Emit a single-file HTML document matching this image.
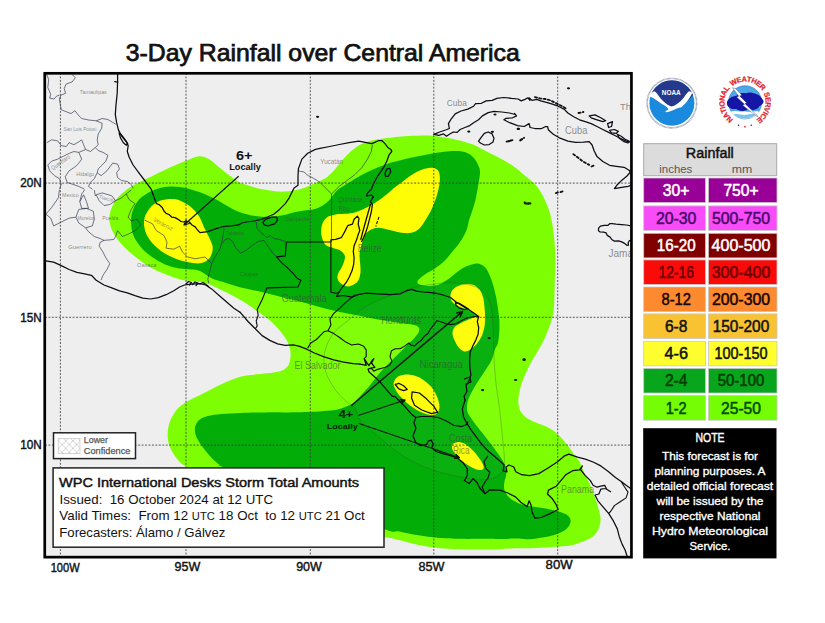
<!DOCTYPE html><html><head><meta charset="utf-8"><title>3-Day Rainfall over Central America</title><style>html,body{margin:0;padding:0;background:#fff}body{width:825px;height:623px;position:relative;overflow:hidden;font-family:"Liberation Sans",sans-serif}</style></head><body><svg width="825" height="623" viewBox="0 0 825 623" style="position:absolute;left:0;top:0;font-family:'Liberation Sans',sans-serif">
<defs><clipPath id="mc"><rect x="45" y="73" width="586" height="484"/></clipPath><pattern id="hatch" width="7" height="7" patternUnits="userSpaceOnUse"><path d="M0,0 L7,7 M7,0 L0,7" stroke="#ffffff" stroke-opacity="0.55" stroke-width="0.7" fill="none"/></pattern><pattern id="hatch2" width="7.3" height="7.6" patternUnits="userSpaceOnUse"><path d="M0,0 L7.3,7.6 M7.3,0 L0,7.6" stroke="#b8b8b8" stroke-width="0.6" fill="none"/></pattern></defs>
<rect width="825" height="623" fill="#fff"/>
<rect x="45" y="73" width="586" height="484" fill="#eeeeee"/>
<g clip-path="url(#mc)">
<path d="M199.1,156.2 C202.7,156.0 205.6,157.3 208.8,159.1 C212.0,160.9 215.3,164.2 218.5,166.8 C221.7,169.4 225.0,172.2 228.2,174.6 C231.4,177.0 234.7,179.6 237.9,181.4 C241.1,183.2 244.4,184.2 247.6,185.3 C250.8,186.4 254.1,187.4 257.3,188.2 C260.5,189.0 263.8,189.5 267,190.1 C270.2,190.7 273.5,191.3 276.7,191.5 C279.9,191.7 283.2,191.7 286.4,191.5 C289.6,191.3 292.8,190.8 296,190.1 C299.2,189.4 302.5,188.4 305.7,187.2 C308.9,186.0 312.7,184.2 315.4,183 C318.1,181.8 319.9,181.1 322,180 C324.1,178.9 325.6,178.4 327.8,176.5 C330.1,174.6 332.9,171.7 335.5,168.8 C338.1,165.9 340.7,162.0 343.3,159.1 C345.9,156.2 348.4,153.6 351,151.3 C353.6,149.0 355.9,147.1 358.8,145.5 C361.7,143.9 365.3,142.6 368.5,141.6 C371.7,140.6 374.6,139.9 378.2,139.3 C381.8,138.7 385.9,138.3 389.8,137.8 C393.7,137.3 397.0,136.7 401.5,136.4 C406.0,136.1 411.8,135.9 417,135.8 C422.2,135.7 427.3,135.4 432.5,135.8 C437.7,136.2 442.8,137.1 448,138.1 C453.2,139.1 459.0,140.4 463.5,141.6 C468.0,142.8 471.8,144.1 475.2,145.5 C478.6,146.9 479.8,148.0 483.6,150 C487.4,152.0 493.3,154.7 498.2,157.3 C503.1,159.9 508.3,162.8 512.7,165.8 C517.1,168.8 520.8,172.1 524.8,175.5 C528.8,178.9 533.8,182.6 537,186.4 C540.2,190.2 542.2,194.5 544.2,198.5 C546.2,202.5 547.9,207.0 549.1,210.6 C550.3,214.2 550.8,216.4 551.5,220 C552.2,223.6 553.0,228.1 553.5,232.1 C554.0,236.1 554.4,240.1 554.7,244.2 C555.0,248.2 555.1,252.3 555.2,256.4 C555.3,260.4 555.3,264.1 555.2,268.5 C555.1,272.9 554.8,278.1 554.7,283 C554.6,287.9 554.6,292.8 554.4,297.6 C554.2,302.5 554.2,307.7 553.5,312.1 C552.8,316.5 551.6,320.1 550.3,324.2 C549.0,328.2 547.3,332.3 545.5,336.4 C543.7,340.4 541.6,344.6 539.4,348.5 C537.2,352.4 534.6,355.9 532.5,359.7 C530.4,363.5 528.5,367.4 526.7,371.3 C524.9,375.2 523.1,379.1 521.8,383 C520.5,386.9 519.4,391.1 518.9,394.6 C518.4,398.2 518.2,401.4 518.5,404.3 C518.8,407.2 519.5,409.8 520.9,412.1 C522.3,414.4 524.1,416.1 526.7,417.9 C529.3,419.7 533.2,421.2 536.4,422.7 C539.6,424.1 542.9,425.0 546.1,426.6 C549.3,428.2 552.9,430.1 555.8,432.4 C558.7,434.7 561.1,437.4 563.5,440.2 C565.9,442.9 568.3,446.3 570.3,448.9 C572.2,451.5 573.6,453.4 575.2,455.7 C576.8,458.0 578.5,459.6 580,462.5 C581.5,465.4 582.7,469.6 584.2,473 C585.7,476.4 587.6,479.5 589.1,482.7 C590.6,485.9 591.9,489.0 593.2,492.4 C594.5,495.8 596.0,499.9 597,503.3 C598.0,506.7 598.9,510.2 599.5,513 C600.1,515.8 600.8,517.2 600.6,520 C600.4,522.8 599.6,526.9 598.2,529.7 C596.8,532.5 594.7,535.0 592.1,537 C589.5,539.0 586.0,540.4 582.4,541.8 C578.8,543.2 574.7,544.7 570.3,545.5 C565.9,546.3 561.4,546.3 555.8,546.7 C550.1,547.1 543.1,547.6 536.4,547.9 C529.7,548.2 521.6,548.1 515.5,548.3 C509.4,548.5 504.9,549.0 500,549.2 C495.1,549.4 493.5,549.4 486.4,549.4 C479.3,549.4 465.4,549.5 457.3,549.2 C449.2,549.0 444.4,548.6 437.9,547.9 C431.4,547.2 425.0,546.3 418.5,545 C412.0,543.7 404.7,541.4 399.1,540.1 C393.5,538.8 396.6,538.9 385.1,537.2 C373.6,535.5 350.9,534.5 330,530 C309.1,525.5 279.2,517.5 260,510 C240.8,502.5 227.4,492.3 215,485 C202.6,477.7 191.6,470.3 185.6,466.3 C179.6,462.3 180.9,463.1 178.8,460.9 C176.7,458.7 174.7,456.0 173,453.1 C171.3,450.2 169.6,446.6 168.7,443.4 C167.8,440.2 167.6,436.9 167.7,433.7 C167.8,430.5 168.2,427.1 169.1,424 C170.0,420.9 171.4,418.1 173,415.3 C174.6,412.6 176.2,409.9 178.8,407.5 C181.4,405.1 184.9,402.8 188.5,400.7 C192.1,398.6 196.2,396.8 200.1,394.9 C204.0,393.0 207.9,391.0 211.8,389.1 C215.7,387.2 219.5,385.1 223.4,383.3 C227.3,381.5 231.1,379.7 235,378.4 C238.9,377.1 242.5,376.2 246.7,375.5 C250.9,374.8 255.7,374.5 260.2,374 C264.7,373.5 269.9,373.3 273.8,372.6 C277.7,371.9 281.1,371.0 283.5,369.7 C285.9,368.4 287.4,367.0 288.5,365 C289.6,363.0 290.1,360.4 290.4,357.9 C290.7,355.4 290.7,352.9 290.2,350.1 C289.7,347.4 288.8,344.3 287.3,341.4 C285.9,338.5 283.8,335.6 281.5,332.7 C279.2,329.8 276.3,326.5 273.7,323.9 C271.1,321.3 268.8,319.4 265.9,317.2 C263.0,314.9 259.8,312.8 256.2,310.4 C252.6,308.0 248.5,305.0 244.6,302.6 C240.7,300.2 236.9,297.9 233,295.8 C229.1,293.7 225.2,291.9 221.3,290 C217.4,288.1 213.2,285.8 209.7,284.5 C206.1,283.2 203.1,282.7 200,282.1 C196.9,281.6 194.7,281.7 191.3,281.2 C187.9,280.7 183.5,280.2 179.6,279.2 C175.7,278.2 171.9,276.8 168,275.3 C164.1,273.9 160.3,272.4 156.4,270.5 C152.5,268.6 148.6,266.3 144.7,263.7 C140.8,261.1 136.6,257.9 133.1,255 C129.6,252.1 126.3,249.3 123.4,246.2 C120.5,243.1 117.7,239.7 115.6,236.5 C113.5,233.3 111.8,230.1 110.8,226.9 C109.8,223.7 109.2,220.4 109.4,217.2 C109.6,214.0 110.4,210.7 111.8,207.5 C113.2,204.3 115.2,200.7 117.6,197.8 C120.0,194.9 123.7,192.1 126.3,190 C128.9,187.9 130.7,186.9 133.1,185.5 C135.5,184.1 137.7,183.0 140.9,181.4 C144.1,179.8 148.6,177.8 152.5,176 C156.4,174.2 160.2,172.1 164.1,170.3 C168.0,168.5 171.9,166.7 175.8,165 C179.7,163.3 183.5,161.7 187.4,160.2 C191.3,158.7 195.5,156.4 199.1,156.2Z" fill="#7dfe02"/>
<path d="M170,186.5 C173.3,186.3 176.5,186.6 179.7,187 C182.9,187.4 186.2,188.2 189.4,189 C192.6,189.8 195.9,190.9 199.1,192.1 C202.3,193.2 205.6,194.4 208.8,195.9 C212.0,197.4 215.3,199.0 218.5,200.8 C221.7,202.6 225.0,204.8 228.2,206.6 C231.4,208.4 234.7,210.2 237.9,211.5 C241.1,212.8 244.4,213.6 247.6,214.4 C250.8,215.2 254.1,215.9 257.3,216.3 C260.5,216.7 263.8,216.9 267,216.9 C270.2,216.9 273.5,216.7 276.7,216.3 C279.9,215.9 283.0,215.3 286.4,214.5 C289.8,213.7 293.3,212.4 297,211.7 C300.7,210.9 305.4,210.5 308.6,210 C311.8,209.5 313.8,209.4 316.4,208.5 C319.0,207.6 321.9,206.0 324.1,204.5 C326.4,203.0 327.7,201.9 329.9,199.5 C332.1,197.1 334.3,192.9 337.5,190.1 C340.7,187.2 345.2,184.8 349.1,182.4 C353.0,180.0 356.8,177.7 360.7,175.6 C364.6,173.5 368.5,171.6 372.4,169.8 C376.3,168.0 379.8,166.4 384,164.9 C388.2,163.4 392.8,162.3 397.6,161 C402.5,159.7 407.9,158.3 413.1,157.2 C418.3,156.1 423.4,155.1 428.6,154.2 C433.8,153.3 439.6,152.2 444.1,151.7 C448.6,151.1 452.2,150.8 455.8,150.9 C459.4,151.0 462.6,151.2 465.5,152.3 C468.4,153.4 471.1,155.1 473.2,157.2 C475.3,159.3 477.0,162.3 478.1,164.9 C479.2,167.5 480.1,168.7 480,172.7 C479.9,176.7 478.4,184.1 477.6,188.8 C476.8,193.5 476.2,196.9 475.2,200.9 C474.2,204.9 472.5,209.8 471.5,213 C470.5,216.2 469.9,217.2 469.1,220 C468.3,222.8 467.9,226.5 466.7,229.7 C465.5,232.9 463.8,236.2 461.8,239.4 C459.8,242.6 457.4,245.6 454.5,249.1 C451.6,252.6 447.9,257.5 444.6,260.7 C441.3,263.9 438.1,266.1 434.9,268.4 C431.7,270.6 428.0,272.2 425.2,274.2 C422.4,276.2 418.8,278.8 417.8,280.5 C416.8,282.2 417.5,283.6 419.4,284.5 C421.3,285.4 425.9,285.9 429.1,285.9 C432.3,285.9 435.6,285.6 438.8,284.5 C442.0,283.4 445.3,281.3 448.5,279.1 C451.7,276.9 455.3,273.4 458.2,271.3 C461.1,269.2 463.3,267.7 465.9,266.5 C468.5,265.3 471.4,264.4 473.7,264 C476.0,263.6 477.6,263.4 479.5,264 C481.4,264.6 483.6,265.6 485.3,267.5 C487.0,269.4 488.3,272.3 489.6,275.2 C490.9,278.1 492.0,281.3 493.1,284.9 C494.2,288.4 495.2,292.6 496,296.5 C496.8,300.4 497.3,304.3 497.9,308.2 C498.4,312.1 499.1,315.9 499.3,319.8 C499.5,323.7 499.5,327.6 499.3,331.5 C499.1,335.4 498.7,340.0 497.9,343.1 C497.1,346.2 495.7,347.2 494.7,350 C493.7,352.8 493.3,356.5 491.8,359.7 C490.3,362.9 488.2,365.8 485.9,369.4 C483.6,372.9 480.6,377.1 478.2,381 C475.8,384.9 473.2,389.1 471.4,392.7 C469.6,396.3 468.1,399.2 467.5,402.4 C466.9,405.6 466.7,409.2 467.5,412.1 C468.3,415.0 470.6,417.4 472.4,420 C474.2,422.6 475.9,424.9 478.2,427.8 C480.4,430.7 483.1,433.9 485.9,437.5 C488.6,441.1 492.1,445.6 494.7,449.1 C497.3,452.7 499.7,455.9 501.5,458.8 C503.3,461.7 504.5,463.9 505.3,466.5 C506.1,469.1 506.5,471.7 506.3,474.3 C506.1,476.9 504.7,479.5 504.4,482.1 C504.1,484.7 503.6,487.2 504.4,489.8 C505.2,492.4 506.8,495.3 509.2,497.6 C511.6,499.9 515.3,501.9 518.9,503.4 C522.5,504.8 526.4,505.5 530.6,506.3 C534.8,507.1 539.9,507.4 544.1,508.2 C548.3,508.9 552.2,509.8 555.8,510.8 C559.4,511.8 563.1,512.8 565.5,514.1 C567.9,515.5 569.6,517.1 570.3,518.9 C571.0,520.7 570.7,522.8 569.7,524.7 C568.7,526.7 566.8,529.0 564.5,530.6 C562.2,532.2 559.2,533.3 555.8,534.4 C552.4,535.5 548.6,536.5 544.1,537.3 C539.6,538.1 533.4,539.1 528.6,539.3 C523.8,539.5 520.3,538.6 515.5,538.6 C510.7,538.6 504.9,539.0 500,539 C495.1,539.0 493.5,538.8 486.4,538.8 C479.3,538.8 465.4,539.0 457.3,538.8 C449.2,538.6 444.4,538.4 437.9,537.8 C431.4,537.2 425.0,536.4 418.5,535.3 C412.0,534.2 404.7,532.4 399.1,531.4 C393.5,530.4 396.6,533.9 385.1,529.5 C373.6,525.1 349.2,512.4 330,505 C310.8,497.6 287.9,491.4 270,485 C252.1,478.6 230.8,470.1 222.4,466.7 C214.0,463.3 221.1,466.0 219.5,464.7 C217.9,463.4 215.0,461.1 212.7,458.9 C210.4,456.6 208.0,453.8 205.9,451.2 C203.8,448.6 201.7,445.8 200.1,443.4 C198.5,441.0 197.1,438.9 196.2,436.6 C195.3,434.3 194.9,431.9 194.9,429.8 C194.9,427.7 195.3,425.8 196.2,424 C197.1,422.2 198.1,420.6 200.1,419.2 C202.1,417.8 204.3,416.8 207.9,415.9 C211.5,415.0 216.0,414.4 221.5,413.9 C227.0,413.4 233.5,413.1 240.9,412.9 C248.3,412.6 258.2,412.5 266.1,412.4 C274.0,412.3 282.0,412.5 288.5,412.4 C295.0,412.3 299.9,412.2 305,412 C310.1,411.8 314.4,411.7 319.4,411.4 C324.4,411.1 330.7,410.8 334.9,410.1 C339.1,409.4 341.9,408.2 344.6,407.2 C347.4,406.2 349.3,405.5 351.4,404.2 C353.5,402.9 354.9,401.5 357,399.5 C359.1,397.5 361.7,394.6 364,392 C366.3,389.4 369.0,386.4 371,384 C373.0,381.6 374.2,379.7 376,377.5 C377.8,375.3 379.3,373.3 381.5,370.9 C383.7,368.5 386.8,365.5 389.2,363.1 C391.6,360.7 393.7,358.6 396,356.3 C398.3,354.0 400.7,351.6 402.8,349.5 C404.9,347.4 406.7,345.6 408.6,343.7 C410.5,341.8 412.8,339.7 414.4,337.9 C416.0,336.1 417.5,334.4 418.3,333 C419.1,331.6 419.5,330.3 419.3,329.2 C419.1,328.1 418.8,327.0 417.3,326.2 C415.9,325.4 414.0,324.9 410.6,324.3 C407.2,323.7 402.5,323.2 397,322.4 C391.5,321.6 384.1,320.6 377.6,319.5 C371.1,318.4 364.7,316.9 358.2,315.6 C351.7,314.3 345.3,313.1 338.8,311.7 C332.3,310.2 326.0,308.6 319.4,306.9 C312.8,305.1 304.9,302.8 298.9,301.2 C292.9,299.6 288.6,298.7 283.4,297.4 C278.2,296.1 273.1,294.7 267.9,293.5 C262.7,292.3 257.2,291.1 252.4,290 C247.6,288.9 243.7,288.3 238.8,287 C234.0,285.7 227.8,283.6 223.3,282.1 C218.8,280.6 215.5,280.1 211.6,278.2 C207.7,276.3 203.4,272.4 200,271 C196.6,269.6 194.7,269.9 191.3,269.5 C187.9,269.1 183.5,269.1 179.6,268.5 C175.7,267.9 171.9,267.1 168,265.6 C164.1,264.2 160.1,262.1 156.4,259.8 C152.7,257.6 148.8,254.8 145.7,252.1 C142.6,249.3 140.0,246.2 137.9,243.3 C135.8,240.4 134.2,237.7 133.1,234.6 C132.0,231.5 131.5,228.1 131.2,224.9 C130.9,221.7 130.9,218.4 131.5,215.2 C132.1,212.0 133.4,208.4 135,205.5 C136.6,202.6 138.3,200.1 140.9,197.8 C143.5,195.5 147.4,193.1 150.6,191.5 C153.8,189.9 156.8,188.8 160,188 C163.2,187.2 166.7,186.7 170,186.5Z" fill="#02ad08"/>
<path d="M164.1,199.7 C167.3,199.1 171.9,198.5 175.8,199.3 C179.7,200.1 184.2,202.5 187.4,204.5 C190.6,206.5 193.1,209.1 195.2,211.3 C197.3,213.6 198.6,215.4 200,218 C201.4,220.6 202.5,223.8 203.9,226.9 C205.3,230.0 207.2,233.3 208.7,236.5 C210.1,239.7 212.1,243.3 212.6,246.2 C213.1,249.1 212.4,251.7 211.6,254 C210.8,256.3 209.7,258.2 207.8,259.8 C205.9,261.4 203.4,262.9 200,263.3 C196.6,263.7 191.4,262.9 187.4,262.1 C183.4,261.4 179.7,260.3 175.8,258.8 C171.9,257.3 167.7,255.2 164.1,253 C160.5,250.8 157.2,248.1 154.4,245.3 C151.7,242.6 149.3,239.6 147.6,236.5 C145.9,233.4 144.8,230.1 144.3,226.9 C143.8,223.7 143.8,220.3 144.7,217.2 C145.6,214.1 147.6,210.8 149.6,208.4 C151.6,206.0 154.0,204.1 156.4,202.6 C158.8,201.1 160.9,200.2 164.1,199.7Z" fill="#fffd06"/>
<path d="M432.5,167.8 C434.8,168.1 437.1,168.9 438.3,170.7 C439.5,172.5 439.8,175.6 439.9,178.5 C440.0,181.4 439.4,184.6 438.7,188.2 C437.9,191.8 436.8,195.9 435.4,199.8 C434.0,203.7 432.3,207.9 430.5,211.5 C428.7,215.1 426.6,218.3 424.7,221.2 C422.8,224.1 421.1,227.0 418.9,228.9 C416.6,230.8 414.1,232.2 411.2,232.8 C408.3,233.5 405.1,233.3 401.5,232.8 C397.9,232.3 393.4,230.7 389.8,229.9 C386.2,229.1 383.0,228.1 380.1,227.9 C377.2,227.7 374.7,228.1 372.4,228.9 C370.1,229.7 368.0,231.2 366.5,232.8 C365.0,234.4 364.5,236.3 363.6,238.6 C362.7,240.9 361.7,243.7 361,246.4 C360.3,249.1 359.6,252.1 359.5,255 C359.4,257.9 360.0,261.1 360.2,264 C360.4,266.9 360.7,269.5 360.5,272.1 C360.3,274.7 359.7,277.5 358.8,279.4 C357.9,281.3 357.0,282.4 355.3,283.6 C353.6,284.8 350.8,286.4 348.5,286.5 C346.2,286.6 343.5,285.2 341.7,284 C339.9,282.8 338.4,281.2 337.8,279.5 C337.2,277.8 337.4,276.0 338,274 C338.6,272.0 340.5,269.8 341.6,267.5 C342.7,265.2 344.0,262.1 344.5,260 C345.0,257.9 345.3,256.6 344.5,255 C343.7,253.3 341.4,251.2 339.6,250.1 C337.8,249.0 336.1,249.0 333.8,248.2 C331.6,247.4 328.0,246.9 326.1,245.3 C324.2,243.7 323.0,240.9 322.2,238.5 C321.4,236.1 321.1,233.4 321.2,230.7 C321.3,228.0 321.8,224.8 322.9,222.5 C324.0,220.2 325.7,218.2 327.8,216.8 C329.9,215.5 332.6,214.9 335.5,214.4 C338.4,213.9 342.0,214.1 345.2,213.8 C348.4,213.5 352.0,213.1 354.9,212.4 C357.8,211.7 360.1,210.6 362.7,209.5 C365.3,208.4 367.8,207.0 370.4,205.6 C373.0,204.2 375.6,202.6 378.2,200.8 C380.8,199.0 383.3,197.1 385.9,195 C388.5,192.9 391.1,190.3 393.7,188.2 C396.3,186.1 398.9,184.3 401.5,182.4 C404.1,180.5 406.6,178.3 409.2,176.5 C411.8,174.7 414.4,173.0 417,171.7 C419.6,170.4 422.1,169.5 424.7,168.8 C427.3,168.2 430.2,167.5 432.5,167.8Z" fill="#fffd06"/>
<path d="M450.5,297.5 C450.3,295.7 450.5,293.4 451.5,291.6 C452.5,289.8 454.3,288.0 456.4,286.8 C458.5,285.6 461.4,284.6 464.1,284.3 C466.9,284.0 470.3,283.9 472.9,284.8 C475.5,285.7 477.9,287.6 479.6,289.7 C481.3,291.8 482.3,294.6 483.1,297.5 C483.9,300.4 484.2,304.0 484.5,307.2 C484.8,310.4 485.1,313.6 485.1,316.8 C485.1,320.0 485.1,323.3 484.5,326.5 C483.9,329.7 482.9,333.3 481.6,336.2 C480.3,339.1 478.6,341.7 476.7,344 C474.8,346.3 472.0,348.6 469.9,349.8 C467.8,351.0 466.0,351.9 464.1,351.4 C462.2,350.9 459.9,348.8 458.3,346.9 C456.7,345.0 455.4,342.4 454.4,340.1 C453.4,337.8 452.5,335.4 452.5,333.3 C452.5,331.2 453.1,329.1 454.4,327.5 C455.7,325.9 457.9,324.9 460.2,323.6 C462.5,322.3 465.4,320.9 468,319.8 C470.6,318.7 474.0,317.4 475.8,316.8 C477.6,316.2 479.0,316.9 478.7,316.3 C478.4,315.7 475.9,314.2 473.8,313 C471.7,311.8 468.7,310.2 466.1,309.1 C463.5,308.0 460.6,307.3 458.3,306.2 C456.0,305.1 453.8,303.8 452.5,302.3 C451.2,300.9 450.7,299.3 450.5,297.5Z" fill="#fffd06"/>
<path d="M394.3,380.9 C395.0,379.4 396.3,377.7 398.2,376.6 C400.1,375.6 403.0,374.7 405.9,374.6 C408.8,374.5 412.7,375.1 415.6,376 C418.5,376.9 420.8,378.1 423.4,379.9 C426.0,381.7 429.1,384.3 431.2,386.7 C433.3,389.1 434.8,392.0 436,394.4 C437.2,396.8 437.9,398.7 438.5,401 C439.1,403.3 439.8,405.8 439.4,408 C439.0,410.2 438.1,412.9 436.4,414 C434.7,415.1 431.9,415.3 429.1,414.8 C426.3,414.3 422.6,412.8 419.4,411.2 C416.2,409.6 412.6,407.3 409.7,405.2 C406.8,403.1 404.2,400.4 402.1,398.3 C400.0,396.2 398.6,394.6 397.2,392.5 C395.8,390.4 394.4,387.6 393.9,385.7 C393.4,383.8 393.6,382.4 394.3,380.9Z" fill="#fffd06"/>
<path d="M452,446.2 C452.2,445.1 452.8,444.0 453.9,443.3 C455.0,442.6 456.9,441.8 458.8,441.9 C460.8,442.0 463.3,442.8 465.6,444.2 C467.9,445.6 470.3,448.0 472.4,450.1 C474.5,452.2 476.5,454.6 478.2,456.8 C479.9,459.1 481.6,461.7 482.5,463.6 C483.4,465.5 483.8,467.0 483.6,468.1 C483.4,469.2 482.5,469.9 481.1,470 C479.7,470.1 477.4,469.6 475.3,468.9 C473.2,468.2 470.8,467.0 468.5,465.6 C466.2,464.2 463.8,462.5 461.7,460.7 C459.6,458.9 457.4,456.7 455.9,454.9 C454.4,453.1 453.2,451.6 452.6,450.1 C452.0,448.7 451.8,447.3 452,446.2Z" fill="#fffd06"/>
<path d="M324.1,355.9 C324.6,351.4 326.1,346.6 328,342.4 C329.9,338.2 332.6,334.3 335.8,330.7 C339.0,327.1 343.7,324.1 347.4,321 C351.1,317.9 354.5,314.8 358.2,312 C361.9,309.2 365.3,306.9 369.8,304.5 C374.3,302.1 380.0,299.6 385,297.5 C390.0,295.4 395.0,293.7 400,292 C405.0,290.3 410.0,288.8 415,287.5 C420.0,286.2 424.7,285.2 430,284.5 C435.3,283.8 441.3,283.1 447,283 C452.7,282.9 459.0,283.2 464,284 C469.0,284.8 473.3,285.7 477,287.5 C480.7,289.3 483.7,291.8 486,295 C488.3,298.2 489.8,302.0 491,307 C492.2,312.0 492.6,317.8 493,325 C493.4,332.2 493.4,342.6 493.7,350 C494.0,357.4 494.2,362.9 494.7,369.4 C495.2,375.9 495.8,382.3 496.6,388.8 C497.4,395.3 498.7,401.7 499.5,408.2 C500.3,414.7 500.9,421.1 501.5,427.6 C502.1,434.1 502.9,441.5 503.4,447 C503.9,452.5 504.5,456.8 504.4,460.6 C504.3,464.4 504.2,467.4 503,470 C501.8,472.6 499.7,474.9 497,476.5 C494.3,478.1 490.7,479.0 487,479.5 C483.3,480.0 479.5,479.9 475,479.5 C470.5,479.1 466.5,478.4 460,477 C453.5,475.6 443.3,473.3 436,471 C428.7,468.7 422.9,466.6 416.4,463.4 C409.9,460.2 403.4,456.3 397,451.8 C390.6,447.3 384.2,441.5 378,436.2 C371.8,430.9 363.8,424.6 360,420 C356.2,415.4 357.3,411.2 355.2,408.3 C353.1,405.4 350.3,405.1 347.4,402.5 C344.5,399.9 340.6,396.4 337.7,392.8 C334.8,389.2 332.0,385.1 329.9,381.2 C327.8,377.3 326.1,373.7 325.1,369.5 C324.1,365.3 323.6,360.4 324.1,355.9Z" fill="#ffffff" fill-opacity="0.035" stroke="#3a4a2a" stroke-opacity="0.5" stroke-width="0.6"/>
<path d="M72.0,74.3 L75.3,77.8 L72.0,82.0 L66.2,84.0 L64.2,88.4 L65.6,93.3 L60.9,95.2 L59.4,99.1 L60.4,104.9 L61.3,109.8 L66.2,111.7 L71.0,113.6 L74.9,110.7 L78.8,115.6 L81.7,118.5 L88.5,120.0 L96.2,120.8 L102.1,118.5 L107.9,119.5 L112.7,122.4 L116.0,124.3" fill="none" stroke="#282d46" stroke-opacity="0.72" stroke-width="0.9" stroke-linejoin="round"/>
<path d="M46.8,74.3 L48.7,79.7 L47.8,87.5 L50.7,94.2 L49.7,98.1 L54.0,99.1 L56.5,96.2 L59.4,95.2" fill="none" stroke="#282d46" stroke-opacity="0.72" stroke-width="0.9" stroke-linejoin="round"/>
<path d="M96.2,120.8 L102.1,123.3 L101.7,128.2 L98.2,134.0 L97.2,139.8 L98.2,144.7 L95.3,147.6 L98.2,150.5 L103.0,152.4 L107.9,155.3 L105.9,161.2 L102.1,165.0 L98.2,168.9 L97.2,172.8 L101.1,175.7 L106.9,170.8 L109.8,167.0 L112.7,163.1 L117.6,164.1 L119.5,168.9 L116.6,172.8 L117.6,177.6 L121.5,180.5 L127.3,181.5 L131.2,184.4 L133.1,188.3" fill="none" stroke="#282d46" stroke-opacity="0.72" stroke-width="0.9" stroke-linejoin="round"/>
<path d="M46.8,142.7 L51.6,139.8 L57.5,140.8 L61.3,145.6 L66.2,146.6 L69.1,142.7 L73.9,144.7 L78.8,141.8 L81.7,139.8 L83.6,144.7 L85.6,149.5 L90.4,151.5 L95.3,147.6" fill="none" stroke="#282d46" stroke-opacity="0.72" stroke-width="0.9" stroke-linejoin="round"/>
<path d="M47.8,165.0 L51.6,161.2 L57.5,159.2 L63.3,156.3 L69.1,153.4 L73.9,151.5 L78.8,152.4 L85.6,149.5" fill="none" stroke="#282d46" stroke-opacity="0.72" stroke-width="0.9" stroke-linejoin="round"/>
<path d="M47.8,165.0 L49.7,170.8 L54.5,175.7 L59.4,178.6 L61.3,184.4 L59.4,189.3" fill="none" stroke="#282d46" stroke-opacity="0.72" stroke-width="0.9" stroke-linejoin="round"/>
<path d="M65.2,176.7 L69.1,170.8 L74.9,167.0 L78.8,163.1 L81.7,159.2 L78.8,152.4" fill="none" stroke="#282d46" stroke-opacity="0.72" stroke-width="0.9" stroke-linejoin="round"/>
<path d="M65.2,176.7 L67.2,182.5 L73.0,184.4 L78.8,186.4 L84.6,189.3" fill="none" stroke="#282d46" stroke-opacity="0.72" stroke-width="0.9" stroke-linejoin="round"/>
<path d="M97.2,172.8 L94.3,178.6 L90.4,182.5 L88.5,186.4 L92.4,189.3" fill="none" stroke="#282d46" stroke-opacity="0.72" stroke-width="0.9" stroke-linejoin="round"/>
<path d="M144.7,220.1 L152.5,223.9 L156.4,230.7 L164.1,235.6 L167.0,242.4 L166.1,248.2 L173.8,249.2 L179.6,246.2 L182.5,252.1 L187.4,256.9 L195.2,258.8 L200.0,257.9" fill="none" stroke="#282d46" stroke-opacity="0.72" stroke-width="0.9" stroke-linejoin="round"/>
<path d="M126.3,193.9 L129.2,199.7 L135.0,203.6 L131.2,209.4 L128.2,217.2 L131.2,221.0 L137.0,219.1 L140.8,224.9 L135.0,230.7 L127.3,234.6 L122.4,236.5 L117.6,230.7 L115.6,236.5 L113.7,239.5 L104.0,240.4 L100.1,242.4 L99.2,246.2 L103.0,252.1 L105.9,257.9 L109.8,263.7 L106.9,269.5 L103.0,275.3 L101.1,280.2" fill="none" stroke="#282d46" stroke-opacity="0.72" stroke-width="0.9" stroke-linejoin="round"/>
<path d="M78.8,209.4 L86.5,208.4 L93.3,211.3 L94.3,219.1 L92.4,225.9 L85.6,227.8 L78.8,223.0 L75.9,217.2 L78.8,209.4" fill="none" stroke="#282d46" stroke-opacity="0.72" stroke-width="0.9" stroke-linejoin="round"/>
<path d="M79.8,201.6 L83.6,194.8 L86.5,201.6 L88.5,208.4 L81.7,208.4 L79.8,201.6" fill="none" stroke="#282d46" stroke-opacity="0.72" stroke-width="0.9" stroke-linejoin="round"/>
<path d="M96.2,194.8 L102.1,192.9 L111.8,195.8 L115.6,200.7 L109.8,204.5 L104.0,205.5 L99.2,200.7 L96.2,194.8" fill="none" stroke="#282d46" stroke-opacity="0.72" stroke-width="0.9" stroke-linejoin="round"/>
<path d="M45.8,214.2 L50.7,218.1 L53.6,225.9 L61.3,222.0 L69.1,218.1 L75.9,217.2" fill="none" stroke="#282d46" stroke-opacity="0.72" stroke-width="0.9" stroke-linejoin="round"/>
<path d="M85.6,227.8 L88.5,231.7 L94.3,236.5 L100.1,238.5 L104.0,240.4" fill="none" stroke="#282d46" stroke-opacity="0.72" stroke-width="0.9" stroke-linejoin="round"/>
<path d="M59.4,190.0 L58.4,197.8 L51.6,207.5 L45.8,214.2" fill="none" stroke="#282d46" stroke-opacity="0.72" stroke-width="0.9" stroke-linejoin="round"/>
<path d="M94.3,190.0 L95.3,195.8 L96.2,194.8" fill="none" stroke="#282d46" stroke-opacity="0.72" stroke-width="0.9" stroke-linejoin="round"/>
<path d="M84.6,190.0 L81.7,193.9 L79.8,201.6" fill="none" stroke="#282d46" stroke-opacity="0.72" stroke-width="0.9" stroke-linejoin="round"/>
<path d="M115.6,200.7 L121.5,197.8 L126.3,193.9 L131.2,190.0" fill="none" stroke="#282d46" stroke-opacity="0.72" stroke-width="0.9" stroke-linejoin="round"/>
<path d="M219.4,250.1 L221.3,244.3 L225.2,239.5 L229.1,238.5 L233,242.4 L235.9,248.2 L240.7,253 L246.5,250.1 L252.4,245.3 L258.2,241.4 L264,240.4 L267.9,246.2 L272.7,253 L276.6,256.9" fill="none" stroke="#282d46" stroke-opacity="0.72" stroke-width="0.9" stroke-linejoin="round"/>
<path d="M219.4,250.1 L215.5,255.9 L211.6,263.7 L209.7,271.5 L207.8,279.2 L208.7,283.1" fill="none" stroke="#282d46" stroke-opacity="0.72" stroke-width="0.9" stroke-linejoin="round"/>
<path d="M224.2,226.5 L223.3,234.6 L221.3,244.3" fill="none" stroke="#282d46" stroke-opacity="0.72" stroke-width="0.9" stroke-linejoin="round"/>
<path d="M256.2,222 L257.2,228.8 L262.1,233.6 L266.9,237.5 L270.8,235.6 L273.7,238.5 L279.5,239.5 L286.3,242" fill="none" stroke="#282d46" stroke-opacity="0.72" stroke-width="0.9" stroke-linejoin="round"/>
<path d="M200,257.9 L205,257 L211.6,263.7" fill="none" stroke="#282d46" stroke-opacity="0.72" stroke-width="0.9" stroke-linejoin="round"/>
<path d="M331.5,242 L331.5,194 L339.4,186.2 L347.2,180.4 L354.9,174.6 L361.7,167.8 L367.5,159.1 L371.4,151.3 L372.4,144.5" fill="none" stroke="#282d46" stroke-opacity="0.72" stroke-width="0.9" stroke-linejoin="round"/>
<path d="M331.5,194 L325.8,188.2 L320,182.4 L313,178 L308,175.5 L304,172 L299,171" fill="none" stroke="#282d46" stroke-opacity="0.72" stroke-width="0.9" stroke-linejoin="round"/>
<line x1="60.4" y1="73" x2="60.4" y2="557" stroke="#3c3c3c" stroke-width="0.85" stroke-dasharray="1.9 1.55"/>
<line x1="186" y1="73" x2="186" y2="557" stroke="#3c3c3c" stroke-width="0.85" stroke-dasharray="1.9 1.55"/>
<line x1="310.3" y1="73" x2="310.3" y2="557" stroke="#3c3c3c" stroke-width="0.85" stroke-dasharray="1.9 1.55"/>
<line x1="433.8" y1="73" x2="433.8" y2="557" stroke="#3c3c3c" stroke-width="0.85" stroke-dasharray="1.9 1.55"/>
<line x1="557.7" y1="73" x2="557.7" y2="557" stroke="#3c3c3c" stroke-width="0.85" stroke-dasharray="1.9 1.55"/>
<line x1="45" y1="183.1" x2="631" y2="183.1" stroke="#3c3c3c" stroke-width="0.85" stroke-dasharray="1.9 1.55"/>
<line x1="45" y1="317.3" x2="631" y2="317.3" stroke="#3c3c3c" stroke-width="0.85" stroke-dasharray="1.9 1.55"/>
<line x1="45" y1="445.1" x2="631" y2="445.1" stroke="#3c3c3c" stroke-width="0.85" stroke-dasharray="1.9 1.55"/>
<path d="M117.6,73.9 L117.6,81.6 L117.2,93.3 L116,104.9 L115.3,114.6 L116.6,122.4 L118.5,130.1 L121.5,135.9 L126.3,141.8 L128.2,145.6 L127.3,151.5 L129.2,157.3 L133.1,165 L138.9,172.8 L144.7,180.5 L150.6,188.3 L151.5,190 L153.5,195.8 L156.4,203.6 L159,204.5 L162.2,207.5 L164,211 L166.1,213.3 L169,214.5 L171.9,217.2 L175,217.6 L177.7,219.1 L181,221.5 L183.5,222 L186,221.2 L189.3,222 L192,225 L195.2,226.9 L197.5,230 L200,232.7 L207.8,231.7 L215.5,228.8 L223.3,226.5 L231,225.9 L238.8,224.9 L241.7,223 L246.5,222 L254.3,221 L262.1,219.1 L266.9,217.2 L273.7,214.2 L279.5,209.4 L285.3,203.6 L289.2,197.8 L292.1,191.9 L294.1,188 L298,185.3 L298,176.5 L298.4,168.8 L301.9,159.1 L307.7,153.3 L315.4,149.4 L320,148.4 L329.7,146.5 L339.4,144.5 L349.1,142.6 L358.8,141.2 L366.5,142.6 L371.4,143.6 L374.3,142.6 L378.2,140.7 L382.1,140.7 L385,143.6 L387.9,147.5 L390.8,149.4 L391.8,151.3 L388.9,155.2 L386.9,161 L384,166.8 L380.1,172.7 L376.2,178.5 L373.3,184.3 L371.4,189.2 L367.5,193 L366.5,196 L371.4,195 L373.3,196.9 L370.4,201.8 L372.4,204.7 L371.4,211.5 L369.5,219.2 L367.5,227 L365.6,232.8 L363.6,237.6 L361.7,241.5" fill="none" stroke="#0c0c14" stroke-width="1.25" stroke-linejoin="round" stroke-linecap="round"/>
<path d="M119.1,133.0 L121.5,135.0 L125.3,139.8 L127.7,143.7 L126.3,145.2 L123.4,142.7 L120.5,137.9 L119.1,133.0" fill="none" stroke="#0c0c14" stroke-width="1.25" stroke-linejoin="round" stroke-linecap="round"/>
<path d="M114.7,81.6 L117.6,82.2" fill="none" stroke="#0c0c14" stroke-width="1.25" stroke-linejoin="round" stroke-linecap="round"/>
<path d="M263,222 L265.9,219.1 L271.8,217.2 L276.6,217.2 L277.6,220.1 L274.7,223.9 L267.9,225.9 L264,224.9 L263,222" fill="none" stroke="#0c0c14" stroke-width="1.25" stroke-linejoin="round" stroke-linecap="round"/>
<path d="M386.9,168.8 L389.8,168.4 L390.8,171.7 L388.3,176.2 L385.6,176.5 L385.0,173.6 L386.9,168.8" fill="none" stroke="#0c0c14" stroke-width="1.25" stroke-linejoin="round" stroke-linecap="round"/>
<path d="M330.9,239.8 L335.7,239.3 L341.3,237.7 L344.5,232.1 L347.7,225.7 L352.5,224.1 L354.1,219.3 L357.3,216.1 L359,218.5 L358.2,224.1 L359.8,230.5 L358.2,234.5 L356.5,240.1 L354.1,245.7 L353.3,251.4 L354.1,257.8 L353.7,264.2 L352.1,270.6 L349.3,277 L346.1,282.7 L342.1,287.5 L338.9,292.3 L336.5,296.3 L343.7,295.5 L351.7,297.1 L358.2,294.7 L366.2,293.1 L377.4,293.9 L390.3,294.7 L399.9,293.9 L406.9,290.7" fill="none" stroke="#0c0c14" stroke-width="1.25" stroke-linejoin="round" stroke-linecap="round"/>
<path d="M370.4,204.7 L368,213 L365.5,222 L363,231 L360.8,239.5" fill="none" stroke="#0c0c14" stroke-width="1.25" stroke-linejoin="round" stroke-linecap="round"/>
<path d="M406.9,290.7 L411.8,289.3 L416.6,291.2 L423.4,292 L431.2,292.6 L437.9,293.6 L444.7,295.5 L450.5,297.5 L456.4,302.3 L461.2,305.2 L468,309.1 L473.8,313 L478.7,316.5 L477.3,321.7 L478.7,327.5 L478.1,334.3 L475.8,340.1 L472.8,345.9 L470.3,351.8 L469.6,359.5 L469.9,367.3 L470.9,375 L469,380.8 L466.1,385.7 L467,391.5 L464.1,396.4 L465.1,400" fill="none" stroke="#0c0c14" stroke-width="1.25" stroke-linejoin="round" stroke-linecap="round"/>
<path d="M455.4,302.3 L459.3,303.3 L464.1,306.2 L468,308.7 L464.1,309.5 L459.3,308.1 L456,305.2 L455.4,302.3" fill="none" stroke="#0c0c14" stroke-width="1.25" stroke-linejoin="round" stroke-linecap="round"/>
<path d="M464.5,379 L469.5,377 L471,382 L466,384" fill="none" stroke="#0c0c14" stroke-width="1.25" stroke-linejoin="round" stroke-linecap="round"/>
<path d="M465.1,400 L462.4,408.8 L463.4,416.5 L466.3,422.4 L471.2,430.1 L477,437.9 L482.8,445.6 L488.6,451.5 L494.4,456.3 L500.2,461.2 L504.1,465 L503.2,470.9 L507,471.8 L506.1,467 L509,465 L513.8,467 L515.8,471.8 L521.6,474.7 L529.3,475.7 L538.8,473.6 L548.5,467.8 L557.2,462 L564,456.2 L568.8,454.2 L577.6,457.2 L585.3,459.1 L593.1,462 L600.8,465.9 L608.6,471.7 L615.4,477.5 L621.2,481.4 L626.1,485.3 L630.3,488.2" fill="none" stroke="#0c0c14" stroke-width="1.25" stroke-linejoin="round" stroke-linecap="round"/>
<path d="M45.8,260.8 L53.6,262.1 L61.3,265.6 L69.1,269.5 L76.9,272.4 L84.6,273.8 L91.4,275.3 L96.2,280.2 L104,285 L111.8,287.9 L119.5,290.8 L127.3,292.8 L135,295.7 L142.8,298.2 L150.6,299 L158.3,297.6 L166.1,294.7 L173.8,290.8 L179.6,287 L184.5,285 L191.3,284.1 L200,283.6 L205.8,285 L211.6,288.9 L219.4,295.7 L227.2,302.5 L233.9,308.3 L240,312.2" fill="none" stroke="#0c0c14" stroke-width="1.25" stroke-linejoin="round" stroke-linecap="round"/>
<path d="M186,284 L188.5,281.5 L191.5,282.5 L189.5,285" fill="none" stroke="#0c0c14" stroke-width="1.25" stroke-linejoin="round" stroke-linecap="round"/>
<path d="M192.5,284.5 L195,282 L198,283 L196,285.5" fill="none" stroke="#0c0c14" stroke-width="1.25" stroke-linejoin="round" stroke-linecap="round"/>
<path d="M200,284 L203,282.5 L206,284.5 L208.5,286.5" fill="none" stroke="#0c0c14" stroke-width="1.25" stroke-linejoin="round" stroke-linecap="round"/>
<path d="M240,312.2 L248.5,322 L255.3,328.8 L262.1,335.6 L269.8,340.4 L277.6,343.9 L285.3,345.3 L293.1,344.9 L298.9,346.2 L306.7,349.2 L314.4,353 L324.1,356.9 L333.8,359.8 L343.5,362.1 L353.2,363.7 L360,364.1" fill="none" stroke="#0c0c14" stroke-width="1.25" stroke-linejoin="round" stroke-linecap="round"/>
<path d="M392.4,396.4 L395.2,396.7 L404.8,406.4 L412.1,414.8 L415.9,417.5 L413.9,422.4 L415.9,428.2 L413,435.9 L415.9,442.7 L420.7,445.6 L426.5,444.7 L428.5,440.8 L431.4,440.2 L433.3,444.7 L431.4,447.6 L436.2,451.5 L442.1,453.4 L449.8,455.3 L457.6,458.2 L463.4,463.1 L467.3,468.9 L467.3,475.7 L464.4,480.5 L469.2,483.5 L473.1,478.6 L477,482.5 L479.9,488.3 L485,493.7 L489.8,489.8 L500,490.1 L507.8,493 L515.5,496.9 L521.3,502.7 L527.2,506.6 L529.1,500.8 L531,504.7 L532,511.5 L534.9,518.2 L541.7,517.3 L548.5,514.4 L554.3,511.5 L558.2,509.5 L556.2,504.7 L552.4,498.8 L547.5,494 L548.5,490.1 L556.2,486.2 L561.1,480.4 L565.9,474.6 L572.7,470.7 L579.5,469.8 L582.4,465.9 L580.5,469.5 L585.3,475.6 L590.2,480.4 L593.1,485.3 L597,487.2 L600.8,486.2 L604.7,485.3 L606.7,489.2 L610.6,491.7 L605.5,488.5 L600.8,489.2 L598.9,494 L595,495 L597.9,500.8 L602.8,506.6 L608.6,513.4 L613.5,521.2 L617.3,528.9 L619.3,536.7 L622.2,544.4 L625.1,550 L627,556" fill="none" stroke="#0c0c14" stroke-width="1.25" stroke-linejoin="round" stroke-linecap="round"/>
<path d="M395.2,384.5 L398.8,383.3 L403.6,385.8 L407.3,389.4 L403.6,390.6 L398.8,388.9 L395.2,384.5" fill="none" stroke="#0c0c14" stroke-width="1.25" stroke-linejoin="round" stroke-linecap="round"/>
<path d="M412.1,391.8 L419.4,393.0 L426.7,399.1 L433.9,406.4 L437.6,412.4 L431.5,413.6 L421.8,410.0 L414.5,405.2 L411.6,397.9 L412.1,391.8" fill="none" stroke="#0c0c14" stroke-width="1.25" stroke-linejoin="round" stroke-linecap="round"/>
<path d="M433.9,134.3 L439.7,132.0 L445.5,130.0 L449.4,128.5 L448.4,123.6 L451.3,118.8 L455.2,113.9 L461.0,111.0 L467.8,109.1 L473.6,106.2 L475.6,103.7 L481.4,103.3 L486.2,100.9 L492.1,100.4 L496.9,98.4 L503.7,97.5 L511.5,98.4 L518.2,99.0 L521.2,100.9 L525.0,99.4 L527.9,97.8 L529.9,100.4 L529.1,97.8 L532.0,100.4 L536.8,99.4 L540.7,100.9 L546.5,102.3 L552.4,104.2 L558.2,106.2 L564.0,109.1 L567.9,113.0 L573.7,116.8 L579.5,119.8 L585.3,121.7 L591.2,123.6 L597.0,126.5 L602.8,129.5 L608.6,132.4 L614.4,135.3 L620.2,138.2 L626.1,141.1 L630.3,142.1" fill="none" stroke="#0c0c14" stroke-width="1.25" stroke-linejoin="round" stroke-linecap="round"/>
<path d="M433.9,134.3 L438.7,135.3 L443.6,133.9 L446.5,136.2 L449.4,134.3 L453.3,132.0 L457.2,132.4 L460.1,129.5 L464.9,127.5 L469.8,125.6 L473.6,122.7 L478.5,119.8 L482.4,115.9 L488.2,112.6 L494.0,111.4 L501.8,112.0 L509.5,113.0 L515.3,114.5 L514.5,113.4 L516.5,115.9 L512.6,117.8 L505.8,118.4 L503.9,119.8 L509.7,122.7 L517.5,125.6 L524.2,126.5 L529.1,123.6 L530.1,127.5 L534.9,128.5 L541.7,128.5 L545.6,126.5 L547.5,126.5 L548.5,130.0 L553.3,134.3 L560.1,138.2 L567.9,141.1 L575.6,142.4 L583.4,142.1 L589.2,141.7 L592.1,145.0 L594.1,150.8 L597.0,156.6 L602.8,161.5 L609.6,165.3 L616.4,166.3 L624.1,167.3 L629.0,170.2 L630.3,172.1 L627.0,176.0 L622.2,179.9 L617.3,184.7 L614.4,188.6 L620.2,187.6 L628.0,186.3 L630.3,185.7" fill="none" stroke="#0c0c14" stroke-width="1.25" stroke-linejoin="round" stroke-linecap="round"/>
<path d="M478.5,141.1 L481.4,137.2 L484.3,133.3 L488.2,132.0 L492.1,133.9 L494.0,138.2 L493.0,142.1 L489.2,144.6 L484.3,145.0 L480.4,143.0 L478.5,141.1" fill="none" stroke="#0c0c14" stroke-width="1.25" stroke-linejoin="round" stroke-linecap="round"/>
<path d="M589.2,115.9 L595.0,114.9 L600.8,117.8 L605.7,120.7 L602.8,121.7 L597.0,119.8 L591.2,117.8 L589.2,115.9" fill="none" stroke="#0c0c14" stroke-width="1.25" stroke-linejoin="round" stroke-linecap="round"/>
<path d="M607.6,123.6 L612.5,121.7 L611.5,126.5 L608.6,127.5 L607.6,123.6" fill="none" stroke="#0c0c14" stroke-width="1.25" stroke-linejoin="round" stroke-linecap="round"/>
<path d="M609.6,130.4 L614.4,129.5 L618.3,131.4 L616.4,133.3 L611.5,132.8 L609.6,130.4" fill="none" stroke="#0c0c14" stroke-width="1.25" stroke-linejoin="round" stroke-linecap="round"/>
<path d="M617.3,134.3 L621.2,136.2 L625.1,139.2 L629.0,141.1 L628.0,143.0 L624.1,141.7 L619.3,138.2 L617.3,134.3" fill="none" stroke="#0c0c14" stroke-width="1.25" stroke-linejoin="round" stroke-linecap="round"/>
<path d="M631,225.8 L626.5,225 L621.7,224.6 L616.1,224.2 L612.1,223.7 L609.7,223.7 L607.7,225.4 L604.1,225.4 L600.4,226.1 L598.6,228.2 L598.4,230.6 L600,232 L603.7,232.2 L606.1,232.8 L607.3,235.4 L610.1,237.1 L611.7,239.5 L614.5,241.1 L618.5,240.8 L621.7,241.9 L624.1,243.1 L626.9,245.3 L628.5,245.1 L628.1,242.7 L629.3,240.7 L631,240.3" fill="none" stroke="#0c0c14" stroke-width="1.25" stroke-linejoin="round" stroke-linecap="round"/>
<path d="M360,364.1 L366.2,365.3 L364.2,358.6 L367.2,363.4 L369,365.5 L372,360.5 L373.9,358.6 L371.5,363 L374.9,367.3 L371,368.2 L368.1,369.2 L369.1,372.1 L375.9,377.9 L380.7,382.8 L386.5,389.6 L392.4,396.4" fill="none" stroke="#0c0c14" stroke-width="1.25" stroke-linejoin="round" stroke-linecap="round"/>
<path d="M621.2,481.4 L624.1,486.2 L628,492.1 L626.1,497.9 L620.2,501.8 L614.4,505.6 L610.6,511.5 L608.6,513.4" fill="none" stroke="#0c0c14" stroke-width="1.1" stroke-linejoin="round"/>
<path d="M330.9,242 L286.3,242 L285.3,255.9 L276.6,256.9 L281.5,262.7 L287.3,267.6 L293.1,273.4 L297,278.2 L300.9,280.2 L297.9,287 L266.9,287.9 L262.1,299.7 L257.2,309.4 L258.2,315.2 L256.2,321 L257.2,325.9 L255.3,328.8" fill="none" stroke="#0c0c14" stroke-width="1.1" stroke-linejoin="round"/>
<path d="M330.9,240 L330.9,257.9 L330.9,273.4 L330.9,292.3 L336.5,293.3 L338.9,292.3" fill="none" stroke="#0c0c14" stroke-width="1.1" stroke-linejoin="round"/>
<path d="M355.2,294.8 L351.3,297.8 L345.5,302.6 L339.6,308.4 L333.8,313.3 L329.9,319.1 L330.9,324.9 L328,330.7 L324.1,331.7 L320.2,335.6 L316.4,339.5 L310.5,343.3 L307.6,348.2" fill="none" stroke="#0c0c14" stroke-width="1.1" stroke-linejoin="round"/>
<path d="M328,330.7 L333.8,333.6 L339.6,337.5 L345.8,342.1 L351.6,345 L358.4,344 L363.3,345.9 L366.2,349.8 L366.2,356.6 L364.2,358.6" fill="none" stroke="#0c0c14" stroke-width="1.1" stroke-linejoin="round"/>
<path d="M478.7,316.5 L473.8,316.8 L468,317.8 L463.2,319.8 L456.4,323.6 L450.5,324.6 L445.7,323.6 L440.8,321.7 L437,320.7 L433.1,325.6 L430.2,329.5 L428.3,333.3 L424.4,336.2 L421.5,340.1 L417.6,343 L414.7,345.9 L410.8,345 L408.9,343 L405,345.9 L400.1,348.8 L395.3,348.8 L391.4,350.8 L390,356.6 L392,361.4 L389.5,365.3 L385.6,367.3 L381.7,368.2 L376.8,369.6 L373.9,371.2 L371,368.2" fill="none" stroke="#0c0c14" stroke-width="1.1" stroke-linejoin="round"/>
<path d="M415.9,417.5 L420.7,416.5 L430.4,416.5 L438.2,417.5 L445.9,420.8 L453.7,425.3 L461.5,426.6 L466.3,424.7 L468.2,421.4" fill="none" stroke="#0c0c14" stroke-width="1.1" stroke-linejoin="round"/>
<path d="M487.9,455.9 L484,461.7 L485.9,468.5 L489.8,472.4 L487.9,478.2 L485,482.1 L482.1,486.9 L485,493.7" fill="none" stroke="#0c0c14" stroke-width="1.1" stroke-linejoin="round"/>
<path d="M534.9,97.1 L539.8,98.4 L545.6,99.0 L550.4,100.4 L555.3,102.9 L560.1,105.2 L564.0,107.2 L566.9,109.1" fill="none" stroke="#111" stroke-width="1.8" stroke-linecap="round" stroke-dasharray="2.2 2.2"/>
<path d="M578.5,113.0 L583.4,112.0" fill="none" stroke="#111" stroke-width="1.8" stroke-linecap="round" stroke-dasharray="2.2 2.2"/>
<path d="M573.3,154.1 L578.5,158.0 L582.4,161.1 L586.3,163.4 L589.2,164.9" fill="none" stroke="#111" stroke-width="1.8" stroke-linecap="round" stroke-dasharray="2.2 2.2"/>
<path d="M591.5,166.5 L595.4,164.9" fill="none" stroke="#111" stroke-width="1.8" stroke-linecap="round" stroke-dasharray="2.2 2.2"/>
<path d="M555.9,193.1 L558.6,192.1" fill="none" stroke="#111" stroke-width="1.8" stroke-linecap="round" stroke-dasharray="2.2 2.2"/>
<path d="M560.5,192.1 L563.6,190.9" fill="none" stroke="#111" stroke-width="1.8" stroke-linecap="round" stroke-dasharray="2.2 2.2"/>
<path d="M506.6,141.7 L512.4,140.1" fill="none" stroke="#111" stroke-width="1.8" stroke-linecap="round" stroke-dasharray="2.2 2.2"/>
<path d="M520.2,140.5 L524.1,137.8" fill="none" stroke="#111" stroke-width="1.8" stroke-linecap="round" stroke-dasharray="2.2 2.2"/>
<path d="M508.7,141.3 L511.6,140.1" fill="none" stroke="#111" stroke-width="1.8" stroke-linecap="round" stroke-dasharray="2.2 2.2"/>
<path d="M520.4,140.1 L523.3,138.2" fill="none" stroke="#111" stroke-width="1.8" stroke-linecap="round" stroke-dasharray="2.2 2.2"/>
<path d="M379,216.9 L377.4,221.5 L375.8,226.5" fill="none" stroke="#111" stroke-width="1.1" stroke-dasharray="3 1.5"/>
<path d="M523.5,202 L525,201.3 L526,202.6 L528.5,202.3 L531.2,202.6 L531.4,204.2 L528.5,204.8 L525.5,204.6 L524,204Z" fill="#0a200a"/>
<ellipse cx="317.6" cy="116.8" rx="1.6" ry="1.1" fill="#111"/>
<ellipse cx="568.5" cy="88.3" rx="1.6" ry="1.1" fill="#111"/>
<ellipse cx="518.4" cy="128.9" rx="1.6" ry="1.1" fill="#111"/>
<ellipse cx="468.8" cy="131.6" rx="1.6" ry="1.1" fill="#111"/>
<ellipse cx="492.4" cy="131.8" rx="1.6" ry="1.1" fill="#111"/>
<ellipse cx="518.2" cy="128.9" rx="1.6" ry="1.1" fill="#111"/>
<ellipse cx="495.0" cy="114.5" rx="1.6" ry="1.1" fill="#111"/>
<ellipse cx="489.2" cy="338.1" rx="1.6" ry="1.1" fill="#111"/>
<ellipse cx="524.1" cy="359.9" rx="1.6" ry="1.1" fill="#111"/>
<ellipse cx="524.1" cy="359.3" rx="1.6" ry="1.1" fill="#111"/>
<ellipse cx="515.6" cy="380" rx="1.6" ry="1.1" fill="#111"/>
<ellipse cx="482.6" cy="390.1" rx="1.6" ry="1.1" fill="#111"/>
<text x="456.8" y="105.6" font-size="9.5" text-anchor="middle" fill="#444" fill-opacity="0.6" font-weight="normal" textLength="20" lengthAdjust="spacingAndGlyphs">Cuba</text>
<text x="576.2" y="134.2" font-size="10" text-anchor="middle" fill="#444" fill-opacity="0.6" font-weight="normal" textLength="22.3" lengthAdjust="spacingAndGlyphs">Cuba</text>
<text x="619.9" y="110.4" font-size="9.5" text-anchor="start" fill="#444" fill-opacity="0.6" font-weight="normal">The</text>
<text x="608.5" y="256.7" font-size="10" text-anchor="start" fill="#444" fill-opacity="0.6" font-weight="normal">Jamaica</text>
<text x="369.7" y="252" font-size="10" text-anchor="middle" fill="#444" fill-opacity="0.6" font-weight="normal" textLength="24" lengthAdjust="spacingAndGlyphs">Belize</text>
<text x="304.2" y="301.5" font-size="10" text-anchor="middle" fill="#444" fill-opacity="0.6" font-weight="normal" textLength="45" lengthAdjust="spacingAndGlyphs">Guatemala</text>
<text x="401.2" y="323.5" font-size="10" text-anchor="middle" fill="#444" fill-opacity="0.6" font-weight="normal" textLength="40" lengthAdjust="spacingAndGlyphs">Honduras</text>
<text x="317.6" y="369" font-size="10" text-anchor="middle" fill="#444" fill-opacity="0.6" font-weight="normal" textLength="46" lengthAdjust="spacingAndGlyphs">El Salvador</text>
<text x="441.3" y="367.5" font-size="10" text-anchor="middle" fill="#444" fill-opacity="0.6" font-weight="normal" textLength="43" lengthAdjust="spacingAndGlyphs">Nicaragua</text>
<text x="460.6" y="441.5" font-size="10" text-anchor="middle" fill="#444" fill-opacity="0.6" font-weight="normal" textLength="23" lengthAdjust="spacingAndGlyphs">Costa</text>
<text x="461.3" y="453.5" font-size="10" text-anchor="middle" fill="#444" fill-opacity="0.6" font-weight="normal" textLength="16.5" lengthAdjust="spacingAndGlyphs">Rica</text>
<text x="577.6" y="492.5" font-size="10" text-anchor="middle" fill="#444" fill-opacity="0.6" font-weight="normal" textLength="33" lengthAdjust="spacingAndGlyphs">Panama</text>
<text x="93.3" y="94.3" font-size="6" text-anchor="middle" fill="#444" fill-opacity="0.6" font-weight="normal" textLength="27" lengthAdjust="spacingAndGlyphs">Tamaulipas</text>
<text x="80" y="131" font-size="6" text-anchor="middle" fill="#444" fill-opacity="0.6" font-weight="normal" textLength="33" lengthAdjust="spacingAndGlyphs">San Luis Potosí</text>
<text x="61.8" y="164" font-size="6" text-anchor="middle" fill="#444" fill-opacity="0.6" font-weight="normal" textLength="22" lengthAdjust="spacingAndGlyphs" transform="rotate(-35 61.8 164)">Querétaro</text>
<text x="85.3" y="175.5" font-size="6" text-anchor="middle" fill="#444" fill-opacity="0.6" font-weight="normal" textLength="18" lengthAdjust="spacingAndGlyphs">Hidalgo</text>
<text x="70.3" y="197.3" font-size="6" text-anchor="middle" fill="#444" fill-opacity="0.6" font-weight="normal" textLength="16.5" lengthAdjust="spacingAndGlyphs">Mexico</text>
<text x="106.7" y="200.5" font-size="5.5" text-anchor="middle" fill="#444" fill-opacity="0.6" font-weight="normal" textLength="17" lengthAdjust="spacingAndGlyphs" transform="rotate(15 106.7 200.5)">Tlaxcala</text>
<text x="86" y="220" font-size="6" text-anchor="middle" fill="#444" fill-opacity="0.6" font-weight="normal" textLength="17" lengthAdjust="spacingAndGlyphs">Morelos</text>
<text x="110.3" y="220" font-size="6" text-anchor="middle" fill="#444" fill-opacity="0.6" font-weight="normal" textLength="16" lengthAdjust="spacingAndGlyphs">Puebla</text>
<text x="162.4" y="226" font-size="6" text-anchor="middle" fill="#444" fill-opacity="0.6" font-weight="normal" textLength="21" lengthAdjust="spacingAndGlyphs" transform="rotate(28 162.4 226)">Veracruz</text>
<text x="80" y="249.3" font-size="6" text-anchor="middle" fill="#444" fill-opacity="0.6" font-weight="normal" textLength="23.5" lengthAdjust="spacingAndGlyphs">Guerrero</text>
<text x="146.7" y="267.3" font-size="6" text-anchor="middle" fill="#444" fill-opacity="0.6" font-weight="normal" textLength="19.4" lengthAdjust="spacingAndGlyphs">Oaxaca</text>
<text x="235" y="234.5" font-size="6" text-anchor="middle" fill="#444" fill-opacity="0.6" font-weight="normal" textLength="18" lengthAdjust="spacingAndGlyphs">Tabasco</text>
<text x="297.5" y="220.5" font-size="6" text-anchor="middle" fill="#444" fill-opacity="0.6" font-weight="normal" textLength="24" lengthAdjust="spacingAndGlyphs">Campeche</text>
<text x="249" y="276" font-size="6" text-anchor="middle" fill="#444" fill-opacity="0.6" font-weight="normal" textLength="18" lengthAdjust="spacingAndGlyphs">Chiapas</text>
<text x="331.6" y="164" font-size="7.5" text-anchor="middle" fill="#444" fill-opacity="0.6" font-weight="normal" textLength="22.5" lengthAdjust="spacingAndGlyphs">Yucatán</text>
<text x="350.3" y="202" font-size="7" text-anchor="middle" fill="#444" fill-opacity="0.6" font-weight="normal" textLength="24" lengthAdjust="spacingAndGlyphs">Quintana</text>
<text x="344.2" y="210.5" font-size="7" text-anchor="middle" fill="#444" fill-opacity="0.6" font-weight="normal" textLength="11" lengthAdjust="spacingAndGlyphs">Roo</text>
<path d="M238.3,176.5 L184,225 M186.1,219.9 L184,225 L189.3,223.5" fill="none" stroke="#0a1a0a" stroke-width="1.2" stroke-linecap="round" stroke-linejoin="round"/>
<text x="244.2" y="160.1" font-size="12.5" text-anchor="middle" fill="#111" fill-opacity="1" font-weight="bold" textLength="16.5" lengthAdjust="spacingAndGlyphs">6+</text>
<text x="245" y="170.3" font-size="8.2" text-anchor="middle" fill="#111" fill-opacity="1" font-weight="bold" textLength="31.6" lengthAdjust="spacingAndGlyphs">Locally</text>
<path d="M351.5,405.5 L462.6,311.4 M460.2,316.9 L462.6,311.4 L456.8,312.9" fill="none" stroke="#0a1a0a" stroke-width="1.5" stroke-linecap="round" stroke-linejoin="round"/>
<path d="M359,415.3 L405.2,400 M401.6,403.5 L405.2,400 L400.2,399.4" fill="none" stroke="#0a1a0a" stroke-width="1.2" stroke-linecap="round" stroke-linejoin="round"/>
<path d="M401.6,403.5 L405.2,400 L400.2,399.4Z" fill="#0a1a0a"/>
<path d="M359,423.5 L459.5,457.7 M454.5,458.3 L459.5,457.7 L455.9,454.2" fill="none" stroke="#0a1a0a" stroke-width="1.2" stroke-linecap="round" stroke-linejoin="round"/>
<path d="M454.5,458.3 L459.5,457.7 L455.9,454.2Z" fill="#0a1a0a"/>
<text x="346" y="418.4" font-size="11.5" text-anchor="middle" fill="#062006" fill-opacity="1" font-weight="bold" textLength="14.5" lengthAdjust="spacingAndGlyphs">4+</text>
<text x="342.3" y="428.9" font-size="7.6" text-anchor="middle" fill="#062006" fill-opacity="1" font-weight="bold" textLength="31" lengthAdjust="spacingAndGlyphs">Locally</text>
<rect x="53.5" y="432.8" width="82" height="25.8" fill="#fff" stroke="#222" stroke-width="1.5"/>
<rect x="58.2" y="438.5" width="21.8" height="15.2" fill="url(#hatch2)" stroke="#bbb" stroke-width="0.6"/>
<text x="83.8" y="443.4" font-size="8.8" text-anchor="start" fill="#5a5a5a" fill-opacity="1" font-weight="normal" stroke="#5a5a5a" stroke-width="0.25" textLength="24.2" lengthAdjust="spacingAndGlyphs">Lower</text>
<text x="83.8" y="453.7" font-size="8.8" text-anchor="start" fill="#5a5a5a" fill-opacity="1" font-weight="normal" stroke="#5a5a5a" stroke-width="0.25" textLength="46.6" lengthAdjust="spacingAndGlyphs">Confidence</text>
<rect x="53.1" y="467.9" width="330.9" height="79.3" fill="#fff" stroke="#222" stroke-width="1.5"/>
<text x="59" y="486.5" font-size="13.4" fill="#111" stroke="#111" stroke-width="0.45" textLength="300" lengthAdjust="spacingAndGlyphs">WPC International Desks Storm Total Amounts</text>
<text x="59.5" y="503.8" font-size="12.4" fill="#111" textLength="213.5" lengthAdjust="spacingAndGlyphs" xml:space="preserve">Issued:  16 October 2024 at 12 UTC</text>
<text x="59.3" y="520.4" font-size="12.4" fill="#111" textLength="305.5" lengthAdjust="spacingAndGlyphs" xml:space="preserve">Valid Times:  From 12 <tspan font-size="10.4">UTC</tspan> 18 Oct  to 12 <tspan font-size="10.4">UTC</tspan> 21 Oct</text>
<text x="59.3" y="537" font-size="12.4" fill="#111" textLength="166" lengthAdjust="spacingAndGlyphs">Forecasters: Álamo / Gálvez</text>
</g>
<rect x="44.75" y="73.3" width="586.7" height="483.85" fill="none" stroke="#000" stroke-width="2.7"/>
<text x="125.8" y="61" font-size="23.4" fill="#111" stroke="#111" stroke-width="0.75" textLength="394" lengthAdjust="spacingAndGlyphs">3-Day Rainfall over Central America</text>
<text x="41.8" y="187.3" font-size="12" fill="#111" stroke="#111" stroke-width="0.4" text-anchor="end" textLength="21.5" lengthAdjust="spacingAndGlyphs">20N</text>
<text x="41.8" y="322.1" font-size="12" fill="#111" stroke="#111" stroke-width="0.4" text-anchor="end" textLength="21.5" lengthAdjust="spacingAndGlyphs">15N</text>
<text x="41.8" y="448.5" font-size="12" fill="#111" stroke="#111" stroke-width="0.4" text-anchor="end" textLength="21.5" lengthAdjust="spacingAndGlyphs">10N</text>
<text x="65.2" y="572.4" font-size="12" fill="#111" stroke="#111" stroke-width="0.4" text-anchor="middle" textLength="29" lengthAdjust="spacingAndGlyphs">100W</text>
<text x="187.4" y="571.4" font-size="12" fill="#111" stroke="#111" stroke-width="0.4" text-anchor="middle" textLength="25.7" lengthAdjust="spacingAndGlyphs">95W</text>
<text x="309" y="571.4" font-size="12" fill="#111" stroke="#111" stroke-width="0.4" text-anchor="middle" textLength="25.7" lengthAdjust="spacingAndGlyphs">90W</text>
<text x="431.5" y="571.4" font-size="12" fill="#111" stroke="#111" stroke-width="0.4" text-anchor="middle" textLength="26" lengthAdjust="spacingAndGlyphs">85W</text>
<text x="559.1" y="568.6" font-size="12" fill="#111" stroke="#111" stroke-width="0.4" text-anchor="middle" textLength="27" lengthAdjust="spacingAndGlyphs">80W</text>
<rect x="643.7" y="143.7" width="133" height="32" fill="#dcdcdc" stroke="#aaa" stroke-width="1"/>
<text x="709.8" y="158.3" font-size="14" fill="#111" stroke="#111" stroke-width="0.45" text-anchor="middle" textLength="48" lengthAdjust="spacingAndGlyphs">Rainfall</text>
<text x="675.8" y="172.6" font-size="11.5" fill="#555" text-anchor="middle" textLength="33" lengthAdjust="spacingAndGlyphs">inches</text>
<text x="742" y="172.6" font-size="11.5" fill="#555" text-anchor="middle" textLength="20.5" lengthAdjust="spacingAndGlyphs">mm</text>
<rect x="643.7" y="178" width="61.8" height="24.6" fill="#980098" stroke="#c8c8c8" stroke-width="0.8"/>
<rect x="708.4" y="178" width="68.6" height="24.6" fill="#980098" stroke="#c8c8c8" stroke-width="0.8"/>
<text x="676.2" y="195.9" font-size="15.6" fill="#fff" stroke="#fff" stroke-width="0.5" text-anchor="middle" textLength="26.7" lengthAdjust="spacingAndGlyphs">30+</text>
<text x="741" y="195.9" font-size="15.6" fill="#fff" stroke="#fff" stroke-width="0.5" text-anchor="middle" textLength="35.2" lengthAdjust="spacingAndGlyphs">750+</text>
<rect x="643.7" y="205.9" width="61.8" height="24.6" fill="#f84cf8" stroke="#c8c8c8" stroke-width="0.8"/>
<rect x="708.4" y="205.9" width="68.6" height="24.6" fill="#f84cf8" stroke="#c8c8c8" stroke-width="0.8"/>
<text x="676.2" y="223.8" font-size="15.6" fill="#4a0a6a" stroke="#4a0a6a" stroke-width="0.5" text-anchor="middle" textLength="40.5" lengthAdjust="spacingAndGlyphs">20-30</text>
<text x="741" y="223.8" font-size="15.6" fill="#4a0a6a" stroke="#4a0a6a" stroke-width="0.5" text-anchor="middle" textLength="58.2" lengthAdjust="spacingAndGlyphs">500-750</text>
<rect x="643.7" y="233.3" width="61.8" height="24.6" fill="#800000" stroke="#c8c8c8" stroke-width="0.8"/>
<rect x="708.4" y="233.3" width="68.6" height="24.6" fill="#800000" stroke="#c8c8c8" stroke-width="0.8"/>
<text x="676.2" y="251.20000000000002" font-size="15.6" fill="#fff" stroke="#fff" stroke-width="0.5" text-anchor="middle" textLength="38.8" lengthAdjust="spacingAndGlyphs">16-20</text>
<text x="741" y="251.20000000000002" font-size="15.6" fill="#fff" stroke="#fff" stroke-width="0.5" text-anchor="middle" textLength="58.9" lengthAdjust="spacingAndGlyphs">400-500</text>
<rect x="643.7" y="259.9" width="61.8" height="24.6" fill="#fb0a0a" stroke="#c8c8c8" stroke-width="0.8"/>
<rect x="708.4" y="259.9" width="68.6" height="24.6" fill="#fb0a0a" stroke="#c8c8c8" stroke-width="0.8"/>
<text x="676.2" y="277.79999999999995" font-size="15.6" fill="#6a0000" stroke="#6a0000" stroke-width="0.5" text-anchor="middle" textLength="35.6" lengthAdjust="spacingAndGlyphs">12-16</text>
<text x="741" y="277.79999999999995" font-size="15.6" fill="#6a0000" stroke="#6a0000" stroke-width="0.5" text-anchor="middle" textLength="58.7" lengthAdjust="spacingAndGlyphs">300-400</text>
<rect x="643.7" y="287" width="61.8" height="24.6" fill="#fd8a2e" stroke="#c8c8c8" stroke-width="0.8"/>
<rect x="708.4" y="287" width="68.6" height="24.6" fill="#fd8a2e" stroke="#c8c8c8" stroke-width="0.8"/>
<text x="676.2" y="304.9" font-size="15.6" fill="#1a0500" stroke="#1a0500" stroke-width="0.5" text-anchor="middle" textLength="29.5" lengthAdjust="spacingAndGlyphs">8-12</text>
<text x="741" y="304.9" font-size="15.6" fill="#1a0500" stroke="#1a0500" stroke-width="0.5" text-anchor="middle" textLength="58.2" lengthAdjust="spacingAndGlyphs">200-300</text>
<rect x="643.7" y="313.9" width="61.8" height="24.6" fill="#f9c232" stroke="#c8c8c8" stroke-width="0.8"/>
<rect x="708.4" y="313.9" width="68.6" height="24.6" fill="#f9c232" stroke="#c8c8c8" stroke-width="0.8"/>
<text x="676.2" y="331.79999999999995" font-size="15.6" fill="#111" stroke="#111" stroke-width="0.5" text-anchor="middle" textLength="22.5" lengthAdjust="spacingAndGlyphs">6-8</text>
<text x="741" y="331.79999999999995" font-size="15.6" fill="#111" stroke="#111" stroke-width="0.5" text-anchor="middle" textLength="56.5" lengthAdjust="spacingAndGlyphs">150-200</text>
<rect x="643.7" y="341.3" width="61.8" height="24.6" fill="#ffff30" stroke="#c8c8c8" stroke-width="0.8"/>
<rect x="708.4" y="341.3" width="68.6" height="24.6" fill="#ffff30" stroke="#c8c8c8" stroke-width="0.8"/>
<text x="676.2" y="359.2" font-size="15.6" fill="#111" stroke="#111" stroke-width="0.5" text-anchor="middle" textLength="23.5" lengthAdjust="spacingAndGlyphs">4-6</text>
<text x="741" y="359.2" font-size="15.6" fill="#111" stroke="#111" stroke-width="0.5" text-anchor="middle" textLength="53" lengthAdjust="spacingAndGlyphs">100-150</text>
<rect x="643.7" y="368.4" width="61.8" height="24.6" fill="#08a61c" stroke="#c8c8c8" stroke-width="0.8"/>
<rect x="708.4" y="368.4" width="68.6" height="24.6" fill="#08a61c" stroke="#c8c8c8" stroke-width="0.8"/>
<text x="676.2" y="386.29999999999995" font-size="15.6" fill="#003a00" stroke="#003a00" stroke-width="0.5" text-anchor="middle" textLength="22.5" lengthAdjust="spacingAndGlyphs">2-4</text>
<text x="741" y="386.29999999999995" font-size="15.6" fill="#003a00" stroke="#003a00" stroke-width="0.5" text-anchor="middle" textLength="46.5" lengthAdjust="spacingAndGlyphs">50-100</text>
<rect x="643.7" y="395.6" width="61.8" height="24.6" fill="#74fd04" stroke="#c8c8c8" stroke-width="0.8"/>
<rect x="708.4" y="395.6" width="68.6" height="24.6" fill="#74fd04" stroke="#c8c8c8" stroke-width="0.8"/>
<text x="676.2" y="413.5" font-size="15.6" fill="#004a00" stroke="#004a00" stroke-width="0.5" text-anchor="middle" textLength="21" lengthAdjust="spacingAndGlyphs">1-2</text>
<text x="741" y="413.5" font-size="15.6" fill="#004a00" stroke="#004a00" stroke-width="0.5" text-anchor="middle" textLength="40" lengthAdjust="spacingAndGlyphs">25-50</text>
<rect x="643.2" y="428.2" width="133.3" height="130.2" fill="#000"/>
<text x="710" y="442.2" font-size="12.2" fill="#fff" stroke="#fff" stroke-width="0.4" text-anchor="middle" textLength="29" lengthAdjust="spacingAndGlyphs">NOTE</text>
<text x="710" y="460.2" font-size="11.8" fill="#fff" stroke="#fff" stroke-width="0.35" text-anchor="middle" textLength="96" lengthAdjust="spacingAndGlyphs">This forecast is for</text>
<text x="710" y="475.1" font-size="11.8" fill="#fff" stroke="#fff" stroke-width="0.35" text-anchor="middle" textLength="111" lengthAdjust="spacingAndGlyphs">planning purposes. A</text>
<text x="710" y="490.1" font-size="11.8" fill="#fff" stroke="#fff" stroke-width="0.35" text-anchor="middle" textLength="126.5" lengthAdjust="spacingAndGlyphs">detailed official forecast</text>
<text x="710" y="505.0" font-size="11.8" fill="#fff" stroke="#fff" stroke-width="0.35" text-anchor="middle" textLength="107" lengthAdjust="spacingAndGlyphs">will be issued by the</text>
<text x="710" y="520.0" font-size="11.8" fill="#fff" stroke="#fff" stroke-width="0.35" text-anchor="middle" textLength="101" lengthAdjust="spacingAndGlyphs">respective National</text>
<text x="710" y="535.0" font-size="11.8" fill="#fff" stroke="#fff" stroke-width="0.35" text-anchor="middle" textLength="116" lengthAdjust="spacingAndGlyphs">Hydro Meteorological</text>
<text x="710" y="549.9" font-size="11.8" fill="#fff" stroke="#fff" stroke-width="0.35" text-anchor="middle" textLength="41" lengthAdjust="spacingAndGlyphs">Service.</text>
<g transform="translate(640,68) scale(0.10921)">
<circle cx="292" cy="322" r="238" fill="#fff"/>
<circle cx="292" cy="322" r="226" fill="none" stroke="#66708e" stroke-width="15" stroke-dasharray="6 5" stroke-opacity="0.8"/>
<circle cx="292" cy="322" r="206" fill="#1a8ade"/>
<path d="M98,250 A206,206 0 0 1 486,250 L440,300 L300,370 L150,300 Z" fill="#24398c"/>
<path d="M84,262 C100,235 118,215 132,214 C150,222 165,250 180,268 C215,310 255,345 290,352 C325,345 365,315 400,272 C420,245 435,222 448,214 C462,215 472,222 478,230 C465,262 445,292 420,318 C405,334 392,345 384,358 C365,366 345,366 330,372 C315,380 300,388 285,394 C268,402 250,406 232,404 C228,400 240,392 262,378 C255,366 240,352 222,342 C195,326 165,306 140,288 C120,274 100,264 84,262Z" fill="#fff"/>
<text x="286" y="246" font-size="72" font-weight="bold" fill="#fff" text-anchor="middle" textLength="172" lengthAdjust="spacingAndGlyphs" font-family="Liberation Sans, sans-serif">NOAA</text>
</g>
<g transform="translate(710,68) scale(0.10921)">
<circle cx="321" cy="314" r="152" fill="#4fa8e6" stroke="#2a6fc0" stroke-width="5"/>
<path d="M190,400 C230,380 270,410 320,395 C370,410 410,385 450,400 C430,440 380,462 321,464 C262,462 212,440 190,400Z" fill="#fff"/>
<path d="M215,425 C260,410 300,440 345,425 C380,415 410,425 430,420 C400,452 360,464 321,464 C280,464 240,450 215,425Z" fill="#7cc4ee"/>
<path d="M155,330 C152,305 165,285 200,264 C220,255 240,260 262,242 C280,228 300,228 330,232 C350,220 385,222 430,240 C455,250 475,272 490,300 C492,320 482,338 452,350 C445,365 432,378 392,386 C375,384 360,376 348,376 C335,388 322,392 300,394 C275,396 255,384 240,376 C225,374 210,376 198,372 C180,368 158,352 155,330Z" fill="#1616a6"/>
<path d="M205,180 L236,190 L292,250 L272,256 L337,320 L320,326 L442,446 L424,440 L298,340 L316,333 L243,266 L263,258 Z" fill="#fff" stroke="#101060" stroke-width="3"/>
<text transform="translate(195.0,454.9) rotate(221.8) scale(0.99,1)" text-anchor="middle" font-size="68" font-weight="bold" fill="#e2202c" stroke="#e2202c" stroke-width="2" font-family="Liberation Sans, sans-serif">N</text>
<text transform="translate(165.4,421.4) rotate(235.4) scale(0.99,1)" text-anchor="middle" font-size="68" font-weight="bold" fill="#e2202c" stroke="#e2202c" stroke-width="2" font-family="Liberation Sans, sans-serif">A</text>
<text transform="translate(145.8,385.0) rotate(247.9) scale(0.99,1)" text-anchor="middle" font-size="68" font-weight="bold" fill="#e2202c" stroke="#e2202c" stroke-width="2" font-family="Liberation Sans, sans-serif">T</text>
<text transform="translate(137.4,358.8) rotate(256.3) scale(0.99,1)" text-anchor="middle" font-size="68" font-weight="bold" fill="#e2202c" stroke="#e2202c" stroke-width="2" font-family="Liberation Sans, sans-serif">I</text>
<text transform="translate(132.4,326.4) rotate(266.2) scale(0.99,1)" text-anchor="middle" font-size="68" font-weight="bold" fill="#e2202c" stroke="#e2202c" stroke-width="2" font-family="Liberation Sans, sans-serif">O</text>
<text transform="translate(135.1,280.0) rotate(280.4) scale(0.99,1)" text-anchor="middle" font-size="68" font-weight="bold" fill="#e2202c" stroke="#e2202c" stroke-width="2" font-family="Liberation Sans, sans-serif">N</text>
<text transform="translate(148.3,237.3) rotate(294.0) scale(0.99,1)" text-anchor="middle" font-size="68" font-weight="bold" fill="#e2202c" stroke="#e2202c" stroke-width="2" font-family="Liberation Sans, sans-serif">A</text>
<text transform="translate(169.1,201.6) rotate(306.5) scale(0.99,1)" text-anchor="middle" font-size="68" font-weight="bold" fill="#e2202c" stroke="#e2202c" stroke-width="2" font-family="Liberation Sans, sans-serif">L</text>
<text transform="translate(225.4,151.0) rotate(329.6) scale(0.99,1)" text-anchor="middle" font-size="68" font-weight="bold" fill="#e2202c" stroke="#e2202c" stroke-width="2" font-family="Liberation Sans, sans-serif">W</text>
<text transform="translate(271.4,131.6) rotate(344.8) scale(0.99,1)" text-anchor="middle" font-size="68" font-weight="bold" fill="#e2202c" stroke="#e2202c" stroke-width="2" font-family="Liberation Sans, sans-serif">E</text>
<text transform="translate(313.9,125.1) rotate(357.8) scale(0.99,1)" text-anchor="middle" font-size="68" font-weight="bold" fill="#e2202c" stroke="#e2202c" stroke-width="2" font-family="Liberation Sans, sans-serif">A</text>
<text transform="translate(355.1,128.1) rotate(370.4) scale(0.99,1)" text-anchor="middle" font-size="68" font-weight="bold" fill="#e2202c" stroke="#e2202c" stroke-width="2" font-family="Liberation Sans, sans-serif">T</text>
<text transform="translate(394.7,139.9) rotate(382.9) scale(0.99,1)" text-anchor="middle" font-size="68" font-weight="bold" fill="#e2202c" stroke="#e2202c" stroke-width="2" font-family="Liberation Sans, sans-serif">H</text>
<text transform="translate(432.1,161.1) rotate(396.0) scale(0.99,1)" text-anchor="middle" font-size="68" font-weight="bold" fill="#e2202c" stroke="#e2202c" stroke-width="2" font-family="Liberation Sans, sans-serif">E</text>
<text transform="translate(463.8,190.2) rotate(409.1) scale(0.99,1)" text-anchor="middle" font-size="68" font-weight="bold" fill="#e2202c" stroke="#e2202c" stroke-width="2" font-family="Liberation Sans, sans-serif">R</text>
<text transform="translate(499.3,251.3) rotate(430.6) scale(0.99,1)" text-anchor="middle" font-size="68" font-weight="bold" fill="#e2202c" stroke="#e2202c" stroke-width="2" font-family="Liberation Sans, sans-serif">S</text>
<text transform="translate(508.7,291.6) rotate(443.2) scale(0.99,1)" text-anchor="middle" font-size="68" font-weight="bold" fill="#e2202c" stroke="#e2202c" stroke-width="2" font-family="Liberation Sans, sans-serif">E</text>
<text transform="translate(508.9,334.6) rotate(456.3) scale(0.99,1)" text-anchor="middle" font-size="68" font-weight="bold" fill="#e2202c" stroke="#e2202c" stroke-width="2" font-family="Liberation Sans, sans-serif">R</text>
<text transform="translate(499.3,376.6) rotate(469.3) scale(0.99,1)" text-anchor="middle" font-size="68" font-weight="bold" fill="#e2202c" stroke="#e2202c" stroke-width="2" font-family="Liberation Sans, sans-serif">V</text>
<text transform="translate(487.5,403.4) rotate(478.2) scale(0.99,1)" text-anchor="middle" font-size="68" font-weight="bold" fill="#e2202c" stroke="#e2202c" stroke-width="2" font-family="Liberation Sans, sans-serif">I</text>
<text transform="translate(470.6,429.4) rotate(487.6) scale(0.99,1)" text-anchor="middle" font-size="68" font-weight="bold" fill="#e2202c" stroke="#e2202c" stroke-width="2" font-family="Liberation Sans, sans-serif">C</text>
<text transform="translate(440.7,460.3) rotate(500.7) scale(0.99,1)" text-anchor="middle" font-size="68" font-weight="bold" fill="#e2202c" stroke="#e2202c" stroke-width="2" font-family="Liberation Sans, sans-serif">E</text>
<circle cx="262" cy="524" r="7" fill="#252560"/><circle cx="378" cy="524" r="7" fill="#252560"/>
<path d="M320,524 L323.5,533 L333,533 L325.5,539 L328.5,548 L320,542.5 L311.5,548 L314.5,539 L307,533 L316.5,533Z" fill="#e2202c"/>
</g>

</svg></body></html>
